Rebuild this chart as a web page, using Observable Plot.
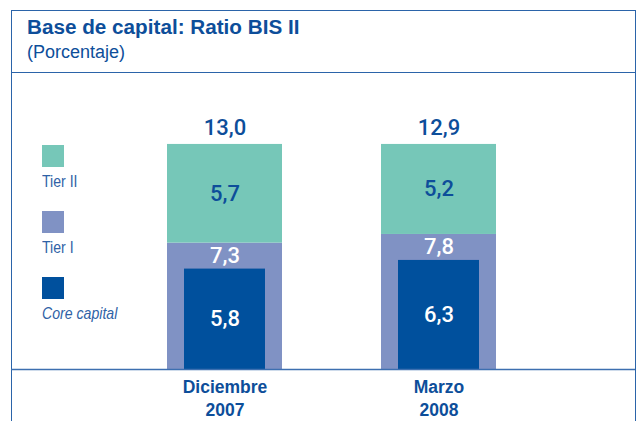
<!DOCTYPE html>
<html><head><meta charset="utf-8">
<script src="https://cdn.jsdelivr.net/npm/d3@7"></script>
<script src="https://cdn.jsdelivr.net/npm/@observablehq/plot@0.6"></script>
<style>
html,body{margin:0;padding:0;background:#fff;}
body{width:638px;height:421px;overflow:hidden;position:relative;font-family:"Liberation Sans",sans-serif;}
#frame{position:absolute;left:11px;top:10px;width:625px;height:440px;border:1.5px solid #2b64a9;border-bottom:none;box-sizing:border-box;}
#header{position:absolute;left:11px;top:10px;width:625px;height:62.5px;border-bottom:1.5px solid #2b64a9;box-sizing:border-box;}
#title{position:absolute;left:27px;top:15px;font-weight:bold;font-size:20.7px;color:#0d4e9a;white-space:nowrap;}
#subtitle{position:absolute;left:27px;top:42px;font-size:18px;color:#0d4e9a;white-space:nowrap;}
#chart{position:absolute;left:0;top:72px;}
#legend{position:absolute;left:42px;top:145px;z-index:2;}
.item{height:66px;}
.sw{width:22px;height:22px;}
.lab{font-family:"Liberation Sans",sans-serif;font-size:17px;color:#2f62a6;margin-top:6px;line-height:18px;white-space:nowrap;transform:scaleX(0.83);transform-origin:0 50%;}
</style></head>
<body>
<div id="frame"></div>
<div id="header"></div>
<div id="title">Base de capital: Ratio BIS II</div>
<div id="subtitle">(Porcentaje)</div>
<div id="legend"></div>
<div id="chart"></div>
<script>
const periods = ["Diciembre\n2007", "Marzo\n2008"];
const coreCapital = [5.8, 6.3];
const tier1 = [7.3, 7.8];
const tier2 = [5.7, 5.2];
const totals = [13.0, 12.9];
const seriesNames = ["Tier II", "Tier I", "Core capital"];
const seriesColors = ["#76c7b8", "#8092c4", "#00509d"];

const fmt = v => d3.format(".1f")(v).replace(".", ",");
const rows = periods.map((p, i) => ({period: p, core: coreCapital[i], t1: tier1[i], t2: tier2[i], total: totals[i]}));
const textBlue = "#0d4e9a";
const valFont = "Roboto";

const chart = Plot.plot({
  width: 638, height: 349,
  marginLeft: 67, marginRight: 42, marginTop: 20, marginBottom: 52,
  x: {domain: periods, padding: 0.4605, align: 0.5, label: null},
  y: {domain: [0, 16], axis: null},
  marks: [
    Plot.barY(rows, {x: "period", y1: 0, y2: "t1", fill: seriesColors[1]}),
    Plot.barY(rows, {x: "period", y1: "t1", y2: d => d.t1 + d.t2, fill: seriesColors[0]}),
    Plot.barY(rows, {x: "period", y1: 0, y2: "core", fill: seriesColors[2], insetLeft: 17, insetRight: 17}),
    Plot.ruleY([0], {stroke: "#3d6fb0", strokeWidth: 1.5, insetLeft: -56, insetRight: -39}),
    Plot.text(rows, {x: "period", y: d => d.t1 + d.t2, text: d => fmt(d.total), dy: -16, fill: textBlue, fontSize: 22, fontWeight: 500, fontFamily: valFont}),
    Plot.text(rows, {x: "period", y: d => d.t1 + d.t2 / 2, text: d => fmt(d.t2), fill: textBlue, fontSize: 22, fontWeight: 500, fontFamily: valFont}),
    Plot.text(rows, {x: "period", y: d => (d.t1 + d.core) / 2, text: d => fmt(d.t1), fill: "white", fontSize: 22, fontWeight: 500, fontFamily: valFont}),
    Plot.text(rows, {x: "period", y: d => d.core / 2, text: d => fmt(d.core), fill: "white", fontSize: 22, fontWeight: 500, fontFamily: valFont}),
    Plot.axisX({tickSize: 0, tickPadding: 8, fontSize: 17.5, fontWeight: "bold", fill: textBlue, lineHeight: 1.27, label: null, fontFamily: "Liberation Sans"})
  ]
});
document.getElementById("chart").appendChild(chart);

const legend = document.getElementById("legend");
seriesNames.forEach((n, i) => {
  const it = document.createElement("div"); it.className = "item";
  const sw = document.createElement("div"); sw.className = "sw"; sw.style.background = seriesColors[i];
  const lb = document.createElement("div"); lb.className = "lab"; lb.textContent = n;
  if (i === 2) lb.style.fontStyle = "italic";
  it.appendChild(sw); it.appendChild(lb); legend.appendChild(it);
});
</script>
</body></html>
